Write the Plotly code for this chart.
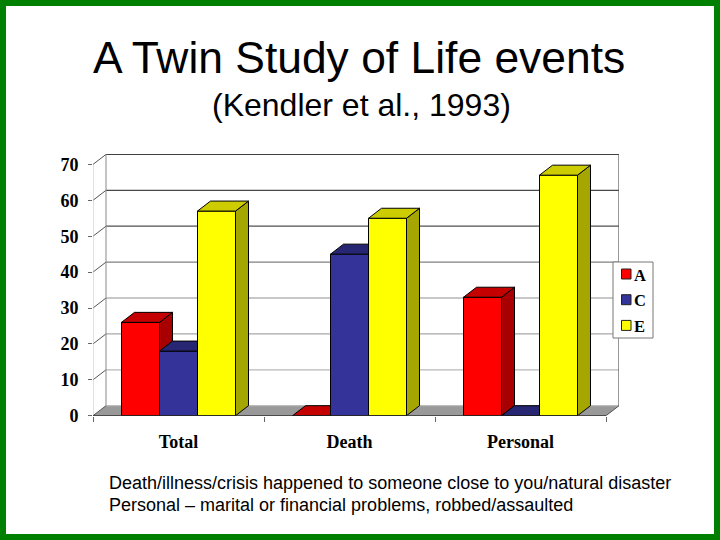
import plotly.graph_objects as go

categories = ["Total", "Death", "Personal"]
series_names = ["A", "C", "E"]
a_values = [26, 0, 33]
c_values = [18, 45, 0]
e_values = [57, 55, 67]
series_values = [a_values, c_values, e_values]
y_ticks = [0, 10, 20, 30, 40, 50, 60, 70]
grid_colors = ["#bbbbbb", "#b8b8b8", "#a8a8a8", "#909090", "#808080", "#505050", "#484848", "#404040"]

front_colors = ["#ff0000", "#333399", "#ffff00"]
top_colors = ["#c40000", "#262673", "#cccc00"]
side_colors = ["#a80000", "#1f1f66", "#a6a600"]

W, H = 720, 540
PX_X = 171     # pixels per category
PX_Y = 3.59    # pixels per unit
LEFT, BASE = 93, 415.7
X_MAX = (619 - LEFT) / PX_X
Y_MAX = (BASE - 154) / PX_Y
DX = 13 / PX_X   # 3d depth
DY = 10 / PX_Y
BAR_W = 38 / PX_X
x_centers = [0.5, 1.5, 2.5]


def px(x):
    return x / W


def py(y):
    return 1 - y / H


fig = go.Figure()
shapes = []
annotations = []

# back wall and floor
shapes.append(dict(type="path", layer="below", xref="x", yref="y",
                   path=f"M 0 0 L {DX} {DY} L {X_MAX} {DY} L {3} 0 Z",
                   fillcolor="#999999", line_width=0))
for v, col in zip(y_ticks, grid_colors):
    shapes.append(dict(type="line", layer="below", xref="x", yref="y", x0=DX, x1=X_MAX, y0=v + DY, y1=v + DY,
                       line=dict(color=col, width=1.2)))
    shapes.append(dict(type="line", layer="below", xref="x", yref="y", x0=0, x1=DX, y0=v, y1=v + DY,
                       line=dict(color="#555555", width=1)))
shapes.append(dict(type="line", layer="below", xref="x", yref="y", x0=DX, x1=DX, y0=DY, y1=Y_MAX,
                   line=dict(color="#888888", width=1)))
shapes.append(dict(type="line", layer="below", xref="x", yref="y", x0=X_MAX, x1=X_MAX, y0=DY, y1=Y_MAX,
                   line=dict(color="#555555", width=1.2)))
shapes.append(dict(type="line", layer="below", xref="x", yref="y", x0=3, x1=X_MAX, y0=0, y1=DY,
                   line=dict(color="#555555", width=1)))
shapes.append(dict(type="line", layer="below", xref="x", yref="y", x0=0, x1=0, y0=0, y1=70,
                   line=dict(color="#c4c4c4", width=1)))

# each series sits on its own overlaid axes so later series cover earlier ones
for i, name in enumerate(series_names):
    suffix = "" if i == 0 else str(i + 1)
    vals = series_values[i]
    off = (i - 1.5) * BAR_W
    side_x, side_y, top_x, top_y = [], [], [], []
    for c, v in zip(x_centers, vals):
        l = c + off
        r = l + BAR_W
        side_x += [r, r + DX, r + DX, r, r, None]
        side_y += [0, DY, v + DY, v, 0, None]
        top_x += [l, l + DX, r + DX, r, l, None]
        top_y += [v, v + DY, v + DY, v, v, None]
    fig.add_trace(go.Bar(x=x_centers, y=vals, name=name, width=BAR_W, offset=off,
                         marker=dict(color=front_colors[i], line=dict(color="#000000", width=1)),
                         cliponaxis=False, xaxis="x" + suffix, yaxis="y" + suffix))
    fig.add_trace(go.Scatter(x=side_x, y=side_y, mode="lines", fill="toself", fillcolor=side_colors[i],
                             line=dict(color="#000000", width=1), cliponaxis=False, showlegend=False,
                             xaxis="x" + suffix, yaxis="y" + suffix))
    fig.add_trace(go.Scatter(x=top_x, y=top_y, mode="lines", fill="toself", fillcolor=top_colors[i],
                             line=dict(color="#000000", width=1), cliponaxis=False, showlegend=False,
                             xaxis="x" + suffix, yaxis="y" + suffix))

# front axis line
shapes.append(dict(type="line", xref="x", yref="y", x0=0, x1=3, y0=0, y1=0,
                   line=dict(color="#222222", width=1.2)))

# legend
shapes.append(dict(type="rect", xref="paper", yref="paper", x0=px(613), x1=px(653), y0=py(262), y1=py(338),
                   fillcolor="#ffffff", line=dict(color="#777777", width=1)))
for i, name in enumerate(series_names):
    yc = 274 + i * 25.7
    shapes.append(dict(type="rect", xref="paper", yref="paper", x0=px(621.5), x1=px(631), y0=py(yc - 5), y1=py(yc + 5),
                       fillcolor=front_colors[i], line=dict(color="#222222", width=1)))
    annotations.append(dict(text=name, xref="paper", yref="paper", x=px(632), y=py(yc + 1), xanchor="left",
                            yanchor="middle", showarrow=False,
                            font=dict(family="Liberation Serif", size=16.5, color="#000000", weight="bold")))

# slide texts
annotations.append(dict(text="A Twin Study of Life events", xref="paper", yref="paper", x=px(359), y=py(58),
                        yanchor="middle", showarrow=False,
                        font=dict(family="Liberation Sans", size=44.4, color="#000000")))
annotations.append(dict(text="(Kendler et al., 1993)", xref="paper", yref="paper", x=px(361), y=py(105),
                        yanchor="middle", showarrow=False,
                        font=dict(family="Liberation Sans", size=32, color="#000000")))
annotations.append(dict(text="Death/illness/crisis happened to someone close to you/natural disaster",
                        xref="paper", yref="paper", x=px(107), y=py(483), xanchor="left", yanchor="middle",
                        showarrow=False, font=dict(family="Liberation Sans", size=18, color="#000000")))
annotations.append(dict(text="Personal – marital or financial problems, robbed/assaulted",
                        xref="paper", yref="paper", x=px(107), y=py(505), xanchor="left", yanchor="middle",
                        showarrow=False, font=dict(family="Liberation Sans", size=18, color="#000000")))

# green slide border
shapes.append(dict(type="rect", xref="paper", yref="paper", x0=px(3), x1=px(717), y0=py(3), y1=py(537),
                   fillcolor="rgba(0,0,0,0)", line=dict(color="#008000", width=6)))

x_dom = [px(LEFT), px(619)]
y_dom = [py(BASE), py(154)]
tick_font = dict(family="Liberation Serif", size=18, color="#000000", weight="bold")
hidden = dict(range=[0, X_MAX], domain=x_dom, showgrid=False, zeroline=False, showticklabels=False, ticks="",
              automargin=False)
hidden_y = dict(range=[0, Y_MAX], domain=y_dom, showgrid=False, zeroline=False, showticklabels=False, ticks="",
                automargin=False)

fig.update_layout(
    template="none",
    width=W, height=H, autosize=False,
    margin=dict(l=0, r=0, t=0, b=0, pad=0),
    paper_bgcolor="#ffffff", plot_bgcolor="rgba(0,0,0,0)",
    showlegend=False, shapes=shapes, annotations=annotations,
    xaxis=dict(range=[0, X_MAX], domain=x_dom, showgrid=False, zeroline=False, tickmode="array",
               tickvals=[0, 1, 2, 3], ticktext=["", "", "", ""], ticks="outside", ticklen=5, tickcolor="#666666",
               showline=False, automargin=False),
    yaxis=dict(range=[0, Y_MAX], domain=y_dom, showgrid=False, zeroline=False, tickmode="array",
               tickvals=y_ticks, ticks="outside", ticklen=4, tickcolor="#666666", tickfont=tick_font,
               ticklabelstandoff=6, showline=False, automargin=False),
    xaxis2=dict(hidden, overlaying="x", anchor="y2"),
    yaxis2=dict(hidden_y, overlaying="y", anchor="x2"),
    xaxis3=dict(range=[0, X_MAX], domain=x_dom, overlaying="x", anchor="y3", showgrid=False, zeroline=False,
                tickmode="array", tickvals=x_centers, ticktext=categories, ticks="", tickfont=tick_font,
                ticklabelstandoff=13, automargin=False),
    yaxis3=dict(hidden_y, overlaying="y", anchor="x3"),
)

fig.write_html("out.html", config={"displayModeBar": False},
               post_script="document.body.style.margin='0';")
